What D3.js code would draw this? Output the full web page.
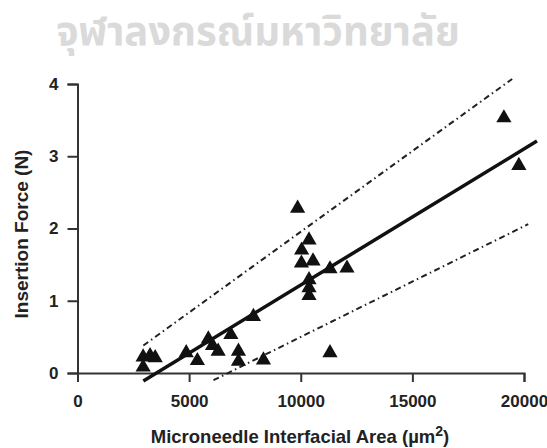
<!DOCTYPE html>
<html>
<head>
<meta charset="utf-8">
<script src="https://cdn.jsdelivr.net/npm/d3@7"></script>
<style>
  body { margin: 0; background: #fff; }
  svg { display: block; }
</style>
</head>
<body>
<svg id="chart"></svg>
<script>
// data
const areaX = [19100, 19770, 9860, 10370, 10040, 10030, 10550, 11310, 12070, 10370, 10370, 10370, 11310,
  2940, 2940, 3250, 3480, 4870, 5370, 5860, 6050, 6300, 6870, 7210, 7210, 8330, 7880]
const forceY = [3.53, 2.87, 2.28, 1.84, 1.70, 1.52, 1.55, 1.44, 1.45, 1.29, 1.18, 1.07, 0.28,
  0.22, 0.08, 0.24, 0.21, 0.28, 0.17, 0.47, 0.38, 0.30, 0.53, 0.30, 0.16, 0.18, 0.78]

const fitX = [2950, 20580]
const fitY = [-0.11, 3.21]
const upperX = [2950, 19470]
const upperY = [0.38, 4.07]
const lowerX = [6090, 20190]
const lowerY = [-0.10, 2.06]

const xTicks = [0, 5000, 10000, 15000, 20000]
const yTicks = [0, 1, 2, 3, 4]

const width = 547
const height = 448
const margin = {top: 84, right: 23, bottom: 75, left: 77.5}

const svg = d3.select('#chart')
  .attr('width', width)
  .attr('height', height)

// faint watermark at the top of the page
svg.append('text')
  .attr('x', 258)
  .attr('y', 45)
  .attr('text-anchor', 'middle')
  .attr('font-family', "'Noto Sans Thai', 'Noto Sans', 'DejaVu Sans', sans-serif")
  .attr('font-weight', 'bold')
  .attr('font-size', '40px')
  .attr('fill', '#dadada')
  .text('จุฬาลงกรณ์มหาวิทยาลัย')

const x = d3.scaleLinear().domain([0, 20000]).range([margin.left, width - margin.right])
const y = d3.scaleLinear().domain([0, 4]).range([height - margin.bottom, margin.top])

function styleAxis(g) {
  g.select('.domain').attr('stroke', '#333').attr('stroke-width', 2)
  g.selectAll('.tick line').attr('stroke', '#333').attr('stroke-width', 2)
  g.selectAll('text')
    .attr('font-family', "'Liberation Sans', Arial, sans-serif")
    .attr('font-weight', 'bold')
    .attr('font-size', '17px')
    .attr('fill', '#222')
}

function xAxis(g) {
  g.attr('transform', `translate(0,${y(0)})`)
    .call(d3.axisBottom(x).tickValues(xTicks).tickSize(9).tickPadding(13).tickFormat(d => d))
  styleAxis(g)
}

function yAxis(g) {
  g.attr('transform', `translate(${x(0)},0)`)
    .call(d3.axisLeft(y).tickValues(yTicks).tickSize(10).tickPadding(9).tickFormat(d => d))
  styleAxis(g)
}

svg.append('g').call(xAxis)
svg.append('g').call(yAxis)

const line = d3.line().x(d => x(d[0])).y(d => y(d[1]))

// prediction bands
svg.append('path')
  .datum(d3.zip(upperX, upperY))
  .attr('d', line)
  .attr('fill', 'none')
  .attr('stroke', '#222')
  .attr('stroke-width', 2)
  .attr('stroke-dasharray', '6,3.5,1.5,3.5')

svg.append('path')
  .datum(d3.zip(lowerX, lowerY))
  .attr('d', line)
  .attr('fill', 'none')
  .attr('stroke', '#222')
  .attr('stroke-width', 2)
  .attr('stroke-dasharray', '6,3.5,1.5,3.5')

// regression line
svg.append('path')
  .datum(d3.zip(fitX, fitY))
  .attr('d', line)
  .attr('fill', 'none')
  .attr('stroke', '#111')
  .attr('stroke-width', 3.5)

// points
svg.append('g').selectAll('path')
  .data(d3.zip(areaX, forceY))
  .join('path')
  .attr('transform', d => `translate(${x(d[0])},${y(d[1])})`)
  .attr('d', d3.symbol(d3.symbolTriangle, 100))
  .attr('fill', '#111')

// axis titles
svg.append('text')
  .attr('x', 300)
  .attr('y', 443)
  .attr('text-anchor', 'middle')
  .attr('font-family', "'Liberation Sans', Arial, sans-serif")
  .attr('font-weight', 'bold')
  .attr('font-size', '18.5px')
  .attr('fill', '#222')
  .html('Microneedle Interfacial Area (µm<tspan dy="-7" font-size="14px">2</tspan><tspan dy="7">)</tspan>')

svg.append('text')
  .attr('transform', 'translate(28,234) rotate(-90)')
  .attr('text-anchor', 'middle')
  .attr('font-family', "'Liberation Sans', Arial, sans-serif")
  .attr('font-weight', 'bold')
  .attr('font-size', '19px')
  .attr('fill', '#222')
  .text('Insertion Force (N)')
</script>
</body>
</html>
